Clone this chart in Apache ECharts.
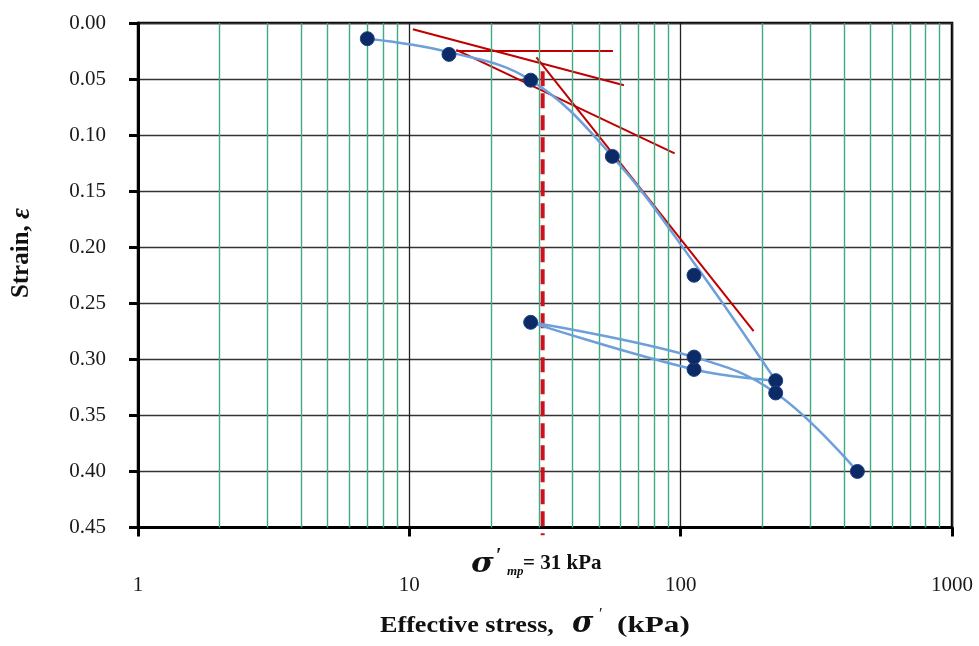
<!DOCTYPE html>
<html>
<head>
<meta charset="utf-8">
<style>
  html, body { margin: 0; padding: 0; background: #fff; }
  #chart { width: 979px; height: 646px; }
</style>
<script src="https://cdn.jsdelivr.net/npm/echarts@6/dist/echarts.min.js"></script>
</head>
<body>
<div id="chart"></div>
<script>
// Oedometer test: strain against effective stress (log scale)
const stress = [7, 14, 28, 56, 112, 224, 112, 28, 112, 224, 448];
const strain = [0.014, 0.028, 0.051, 0.119, 0.225, 0.319, 0.309, 0.267, 0.298, 0.330, 0.400];

// Smoothed compression curve drawn through the test sequence
const curveStress = [7, 14, 28, 56, 112, 224, 112, 28, 112, 224, 448];
const curveStrain = [0.014, 0.026, 0.051, 0.119, 0.214, 0.319, 0.309, 0.267, 0.298, 0.330, 0.400];

// Casagrande construction lines: [stress, strain] end points
const horizontalLine = [[14.9, 0.025], [56.3, 0.025]];
const bisectorLine = [[10.3, 0.0056], [61.8, 0.0556]];
const tangentLine = [[14.9, 0.024], [95.0, 0.1163]];
const virginLine = [[29.4, 0.0306], [185.7, 0.2748]];

// Preconsolidation pressure (kPa)
const preconsolidation = 31;
const preconStrainRange = [0.043, 0.457];

// Axis ticks
const xMajorTicks = [1, 10, 100, 1000];
const xMinorTicks = [2, 3, 4, 5, 6, 7, 8, 9, 20, 30, 40, 50, 60, 70, 80, 90,
                     200, 300, 400, 500, 600, 700, 800, 900];
const yTicks = [0, 0.05, 0.10, 0.15, 0.20, 0.25, 0.30, 0.35, 0.40, 0.45];

const SERIF = '"Liberation Serif", "Times New Roman", "DejaVu Serif", serif';
const GREEK = '"DejaVu Serif", "Liberation Serif", serif';
const RED = '#c00000';

const chart = echarts.init(document.getElementById('chart'), null, { renderer: 'canvas' });

function redLine(name, pts) {
  return {
    name: name,
    type: 'line',
    data: pts,
    symbol: 'none',
    lineStyle: { color: RED, width: 2 },
    silent: true,
    z: 4
  };
}

function label(x, y, text, font, extra) {
  return {
    type: 'text',
    x: x, y: y,
    scaleX: (extra && extra.scaleX) || 1,
    style: Object.assign({
      text: text,
      fill: '#111',
      verticalAlign: 'middle'
    }, font)
  };
}

const option = {
  animation: false,
  backgroundColor: '#ffffff',
  grid: {
    left: 138, top: 23, right: 27, bottom: 118.5,
    show: true, borderColor: '#000', borderWidth: 2.5
  },
  xAxis: {
    type: 'log',
    logBase: 10,
    min: xMajorTicks[0],
    max: xMajorTicks[xMajorTicks.length - 1],
    axisLine: { show: true, onZero: false, lineStyle: { color: '#000', width: 3 } },
    axisTick: { show: true, inside: false, length: 9, lineStyle: { color: '#000', width: 3 } },
    axisLabel: {
      margin: 47,
      color: '#1a1a1a',
      fontFamily: SERIF,
      fontSize: 21,
      formatter: function (v) { return String(Math.round(v)); }
    },
    splitLine: { show: true, lineStyle: { color: '#222', width: 1.3 } }
  },
  yAxis: {
    type: 'value',
    inverse: true,
    min: yTicks[0],
    max: yTicks[yTicks.length - 1],
    interval: 0.05,
    axisLine: { show: true, onZero: false, lineStyle: { color: '#000', width: 3 } },
    axisTick: { show: true, inside: false, length: 9, lineStyle: { color: '#000', width: 3 } },
    axisLabel: {
      margin: 32,
      color: '#1a1a1a',
      fontFamily: SERIF,
      fontSize: 21,
      formatter: function (v) { return v.toFixed(2); }
    },
    splitLine: { show: true, lineStyle: { color: '#333', width: 1.3 } }
  },
  series: [
    {
      name: 'minor grid',
      type: 'line',
      data: [],
      silent: true,
      z: 1,
      markLine: {
        silent: true,
        symbol: 'none',
        label: { show: false },
        lineStyle: { color: '#3fab7e', width: 1.4, type: 'solid' },
        data: xMinorTicks.map(function (v) { return { xAxis: v }; })
      }
    },
    redLine('horizontal', horizontalLine),
    redLine('bisector', bisectorLine),
    redLine('tangent', tangentLine),
    redLine('virgin compression', virginLine),
    {
      name: 'preconsolidation',
      type: 'line',
      data: preconStrainRange.map(function (e) { return [preconsolidation, e]; }),
      symbol: 'none',
      clip: false,
      silent: true,
      lineStyle: { color: '#d0101e', width: 4, type: [15, 7] },
      z: 3
    },
    {
      name: 'compression curve',
      type: 'line',
      data: curveStress.map(function (s, i) { return [s, curveStrain[i]]; }),
      smooth: 0.4,
      symbol: 'none',
      silent: true,
      lineStyle: { color: '#6d9fdb', width: 2.5 },
      z: 5
    },
    {
      name: 'test data',
      type: 'scatter',
      data: stress.map(function (s, i) { return [s, strain[i]]; }),
      symbol: 'circle',
      symbolSize: 14,
      itemStyle: { color: '#0b2a66', borderColor: '#1d3f86', borderWidth: 1, opacity: 1 },
      z: 6
    }
  ],
  graphic: [
    // y-axis title
    {
      type: 'text',
      x: 22, y: 253,
      rotation: Math.PI / 2,
      style: {
        text: '{b|Strain, }{e|ε}',
        align: 'center',
        verticalAlign: 'middle',
        rich: {
          b: { fontFamily: SERIF, fontWeight: 'bold', fontSize: 25, fill: '#111' },
          e: { fontFamily: SERIF, fontStyle: 'italic', fontWeight: 'bold', fontSize: 27, fill: '#111' }
        }
      }
    },
    // preconsolidation label
    label(471, 565, 'σ', { fontFamily: GREEK, fontStyle: 'italic', fontWeight: 'bold', fontSize: 28 }, { scaleX: 1.1 }),
    label(496, 557, '′', { fontFamily: SERIF, fontWeight: 'bold', fontSize: 20 }),
    label(507, 572, 'mp', { fontFamily: SERIF, fontStyle: 'italic', fontWeight: 'bold', fontSize: 13 }),
    label(523, 564, '= 31 kPa', { fontFamily: SERIF, fontWeight: 'bold', fontSize: 21 }),
    // x-axis title
    label(380, 626, 'Effective stress,', { fontFamily: SERIF, fontWeight: 'bold', fontSize: 24 }, { scaleX: 1.09 }),
    label(572, 624, 'σ', { fontFamily: GREEK, fontStyle: 'italic', fontWeight: 'bold', fontSize: 29 }),
    label(599, 615, '′', { fontFamily: SERIF, fontSize: 16 }),
    label(617, 626, '(kPa)', { fontFamily: SERIF, fontWeight: 'bold', fontSize: 24 }, { scaleX: 1.3 })
  ]
};

chart.setOption(option);
</script>
</body>
</html>
